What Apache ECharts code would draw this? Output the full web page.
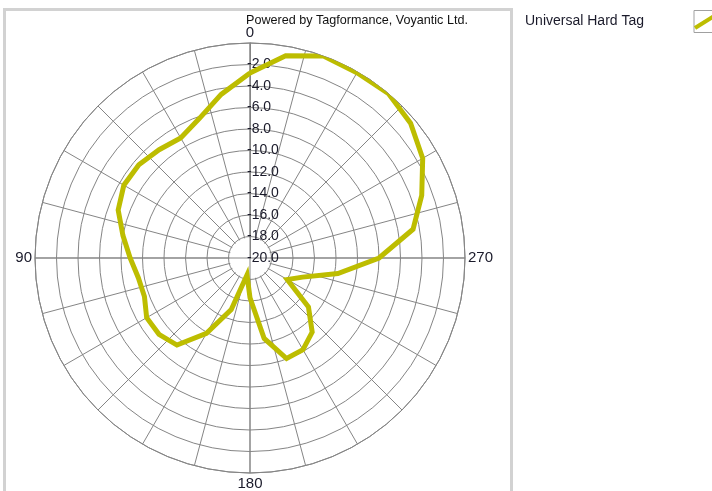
<!DOCTYPE html>
<html>
<head>
<meta charset="utf-8">
<script src="https://cdn.jsdelivr.net/npm/echarts@6/dist/echarts.min.js"></script>
<style>
html,body{margin:0;padding:0;background:#fff;}
#chart{width:712px;height:491px;}
</style>
</head>
<body>
<div id="chart"></div>
<script>
// Angles (degrees, counter-clockwise from top) and measured values (dB)
const angles = [0,10,20,30,40,50,60,70,80,90,100,110,120,130,140,150,160,170,180,190,200,210,220,230,240,250,260,270,280,290,300,310,320,330,340,350,360];
const values = [-2.8,-4.55,-6.2,-7.1,-6.85,-6.5,-6.45,-6.95,-8.0,-8.85,-9.45,-9.55,-8.9,-8.95,-9.43,-11.9,-14.9,-18.4,-16.3,-12.4,-10.05,-10.15,-11.0,-12.9,-16.0,-14.8,-11.7,-8.0,-4.6,-3.0,-1.45,-0.5,0,-0.1,0,-0.9,-2.8];
const seriesName = 'Universal Hard Tag';
const angleLabels = [0,90,180,270];
const radiusMin = -20, radiusMax = 0, radiusStep = 2;

const lineData = angles.map((a,i) => [values[i], a]);

const chart = echarts.init(document.getElementById('chart'));
const gridColor = '#858585';
const FONT = 'Liberation Sans';
const option = {
  animation: false,
  backgroundColor: '#fff',
  title: {
    text: 'Powered by Tagformance, Voyantic Ltd.',
    left: 241, top: 9,
    textStyle: {fontFamily: FONT, fontSize: 12.6, fontWeight: 'normal', color: '#111'}
  },
  legend: {
    data: [seriesName],
    left: 520, top: 5,
    align: 'right',
    icon: 'rect',
    itemWidth: 24, itemHeight: 22,
    itemGap: 0,
    itemStyle: {color: '#fff', borderColor: '#a0a0a0', borderWidth: 1},
    formatter: name => '{t|' + name + '}',
    textStyle: {
      fontFamily: FONT, fontSize: 14, color: '#1a1a2a',
      rich: {t: {fontFamily: FONT, fontSize: 14, color: '#1a1a2a', width: 164, align: 'left'}}
    }
  },
  polar: [
    {center: [250, 258], radius: 215},
    {center: [250, 258], radius: 215}
  ],
  angleAxis: [
    {
      polarIndex: 0, type: 'value', min: 0, max: 360, interval: 15,
      startAngle: 90, clockwise: false, z: 0,
      axisLine: {show: false}, axisTick: {show: false}, axisLabel: {show: false},
      splitLine: {show: true, lineStyle: {color: gridColor, width: 1}}
    },
    {
      polarIndex: 1, type: 'value', min: 0, max: 360, interval: 90,
      startAngle: 90, clockwise: false, z: 2,
      axisLine: {show: true, lineStyle: {color: gridColor, width: 1}},
      axisTick: {show: false},
      axisLabel: {
        show: true, margin: 3,
        fontFamily: FONT, fontSize: 15, color: '#1a1a2a',
        formatter: v => angleLabels.indexOf(v) >= 0 ? String(v) : ''
      },
      splitLine: {show: true, lineStyle: {color: gridColor, width: 1}}
    }
  ],
  radiusAxis: [
    {
      polarIndex: 0, min: radiusMin, max: radiusMax, interval: radiusStep, z: 0,
      axisLine: {show: false}, axisTick: {show: false}, axisLabel: {show: false},
      splitLine: {show: false}
    },
    {
      polarIndex: 1, min: radiusMin, max: radiusMax, interval: radiusStep, z: 2,
      axisLine: {show: true, lineStyle: {color: gridColor, width: 1}},
      axisTick: {show: false},
      axisLabel: {
        show: true, margin: 3, align: 'left', verticalAlign: 'middle',
        fontFamily: FONT, fontSize: 14, color: '#1a1a2a',
        formatter: v => v === 0 ? '' : v.toFixed(1)
      },
      splitLine: {show: true, lineStyle: {color: gridColor, width: 1}}
    }
  ],
  graphic: [
    {type: 'rect', shape: {x: 4.5, y: 9.5, width: 507, height: 500}, style: {fill: 'none', stroke: '#d2d2d2', lineWidth: 3}, z: 0, silent: true},
    {type: 'line', shape: {x1: 695, y1: 28, x2: 714, y2: 16}, style: {stroke: '#bdbd00', lineWidth: 4}, z: 100, silent: true}
  ],
  series: [
    {
      type: 'scatter', coordinateSystem: 'polar', polarIndex: 0,
      data: [[radiusMin, 0]], symbol: 'circle', symbolSize: 41,
      itemStyle: {color: '#fff', opacity: 1}, z: 1, silent: true, legendHoverLink: false
    },
    {
      name: seriesName, type: 'line', coordinateSystem: 'polar', polarIndex: 1,
      data: lineData, showSymbol: false, symbol: 'none', z: 3,
      lineStyle: {color: '#bdbd00', width: 5, join: 'miter'},
      itemStyle: {color: '#bdbd00'}
    }
  ]
};
chart.setOption(option);
</script>
</body>
</html>
